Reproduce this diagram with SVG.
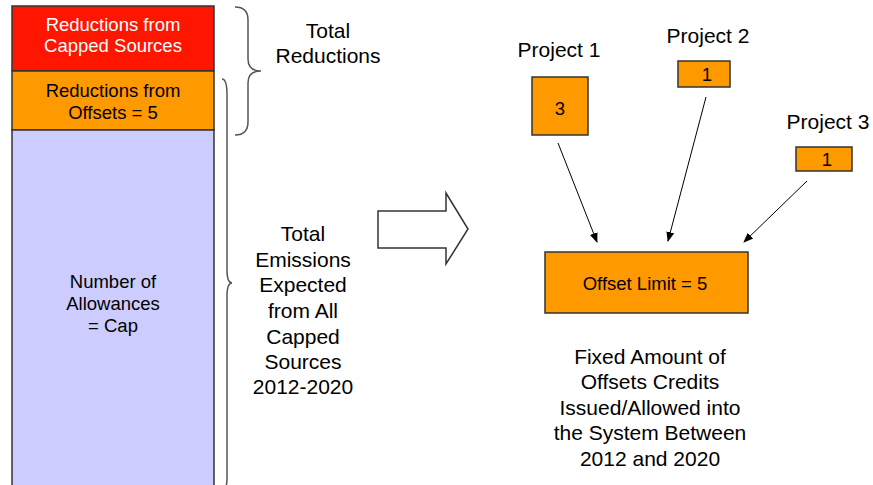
<svg xmlns="http://www.w3.org/2000/svg" width="873" height="485" viewBox="0 0 873 485">
<style>
text{font-family:"Liberation Sans",Arial,sans-serif;text-anchor:middle;fill:#000}
.b{font-size:18.5px}
.l{font-size:21px}
.w{fill:#fff}
.box{stroke:#333;stroke-width:1.5}
.brace{fill:none;stroke:#555;stroke-width:1.5}
.con{stroke:#000;stroke-width:1;fill:none;marker-end:url(#ah)}
</style>
<defs>
<marker id="ah" viewBox="0 0 10 10" refX="9" refY="5" markerWidth="10" markerHeight="10" markerUnits="userSpaceOnUse" orient="auto">
<path d="M0,1 L10,5 L0,9 z" fill="#000"/>
</marker>
</defs>
<rect width="873" height="485" fill="#fff"/>
<g id="capped">
<rect class="box" x="12" y="6" width="202" height="65" fill="#FF1500"/>
<text class="b w" x="113" y="30.5">Reductions from</text>
<text class="b w" x="113" y="51.5">Capped Sources</text>
</g>
<g id="offsets">
<rect class="box" x="12" y="71" width="202" height="59" fill="#FF9900"/>
<text class="b" x="113" y="96.5">Reductions from</text>
<text class="b" x="113" y="118.5">Offsets = 5</text>
</g>
<g id="allowances">
<rect class="box" x="12" y="130" width="202" height="365" fill="#CCCCFF"/>
<text class="b" x="113" y="287.5">Number of</text>
<text class="b" x="113" y="309.5">Allowances</text>
<text class="b" x="113" y="331.5">= Cap</text>
</g>
<g id="brace-reductions">
<path class="brace" d="M235,7 Q248,7 248,20 L248,59 Q248,71 261,71 Q248,71 248,83 L248,122 Q248,135 235,135"/>
<text class="l" x="328" y="37.5">Total</text>
<text class="l" x="328" y="63">Reductions</text>
</g>
<g id="brace-emissions">
<path class="brace" d="M222,79 Q227,79 227,95 L227,270 Q227,283 232,283 Q227,283 227,296 L227,478 Q227,490 222,490"/>
<text class="l" x="303" y="241">Total</text>
<text class="l" x="303" y="267">Emissions</text>
<text class="l" x="303" y="292">Expected</text>
<text class="l" x="303" y="318">from All</text>
<text class="l" x="303" y="344">Capped</text>
<text class="l" x="303" y="369">Sources</text>
<text class="l" x="303" y="394">2012-2020</text>
</g>
<g id="block-arrow">
<polygon points="378,211 446,211 446,193 468,229 446,264 446,248 378,248" fill="#fff" stroke="#333" stroke-width="1.5"/>
</g>
<g id="project1">
<text class="l" x="559" y="57">Project 1</text>
<rect class="box" x="532" y="77" width="56" height="58" fill="#FF9900"/>
<text class="b" x="560" y="114.5">3</text>
</g>
<g id="project2">
<text class="l" x="708" y="43">Project 2</text>
<rect class="box" x="678" y="61" width="52" height="26" fill="#FF9900"/>
<text class="b" x="707" y="80.5">1</text>
</g>
<g id="project3">
<text class="l" x="828" y="129">Project 3</text>
<rect class="box" x="796" y="147" width="56" height="24" fill="#FF9900"/>
<text class="b" x="827" y="165.5">1</text>
</g>
<g id="offset-limit">
<rect class="box" x="545" y="252" width="203" height="61" fill="#FF9900"/>
<text class="b" x="645" y="289.5">Offset Limit = 5</text>
</g>
<g id="caption">
<text class="l" x="650" y="364">Fixed Amount of</text>
<text class="l" x="650" y="389">Offsets Credits</text>
<text class="l" x="650" y="415">Issued/Allowed into</text>
<text class="l" x="650" y="440">the System Between</text>
<text class="l" x="650" y="466">2012 and 2020</text>
</g>
<g id="connectors">
<line class="con" x1="558" y1="143" x2="597" y2="242"/>
<line class="con" x1="706" y1="97" x2="668" y2="241"/>
<line class="con" x1="807" y1="181" x2="744" y2="242"/>
</g>
</svg>
